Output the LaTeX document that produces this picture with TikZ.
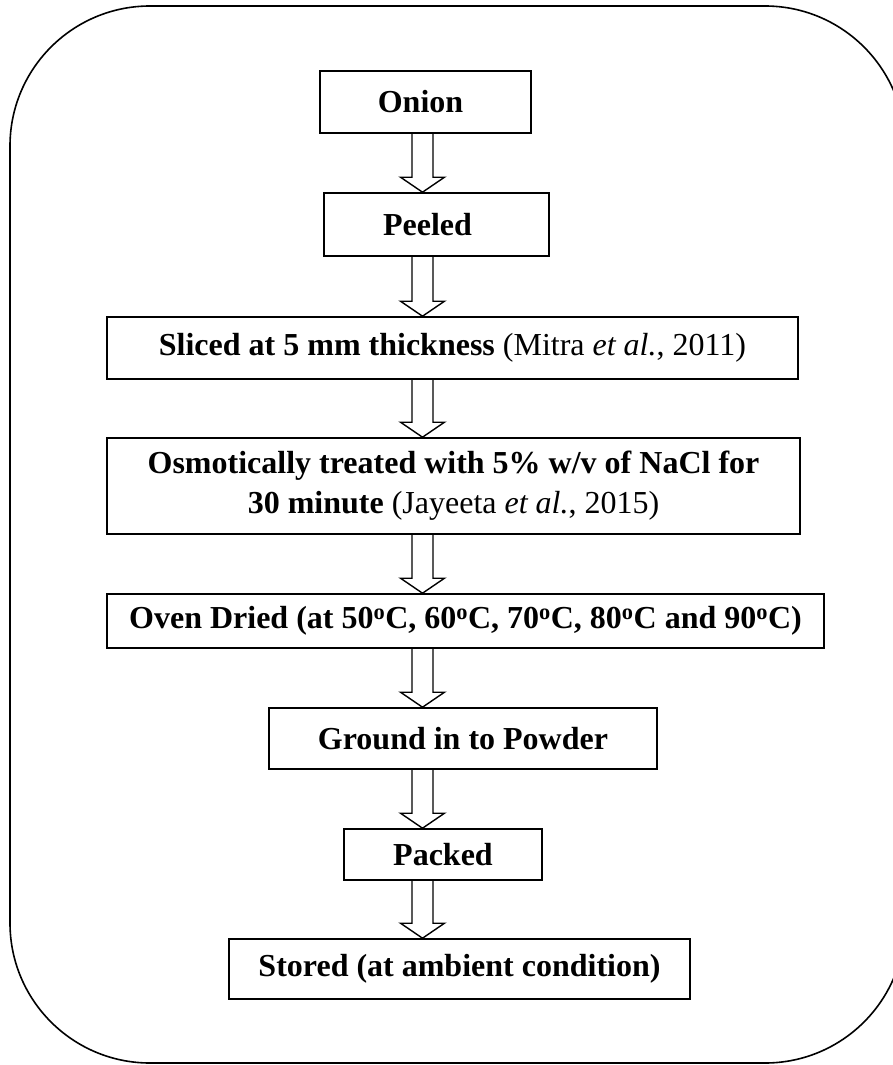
\documentclass[tikz,border=0pt]{standalone}
\usepackage{fontspec}
\setmainfont{Liberation Serif}
\usetikzlibrary{calc}
\newcommand\blockarrow[2]{%
  \draw[blockarr] let \p1=(#1.south -| ax), \p2=(#2.north -| ax) in
    ({\x1-10.5pt},\y1) -- ({\x1-10.5pt},{\y2+15pt}) -- ({\x1-22pt},{\y2+15pt})
    -- (\x1,\y2) -- ({\x1+22pt},{\y2+15pt}) -- ({\x1+10.5pt},{\y2+15pt})
    -- ({\x1+10.5pt},\y1);}
\begin{document}
\begin{tikzpicture}[x=1pt,y=-1pt,
  stepbox/.style={draw, line width=1.6pt, inner sep=0pt,
    font=\fontsize{32}{40}\selectfont\bfseries, align=center},
  blockarr/.style={draw, line width=1.4pt, line join=miter},
  frame/.style={draw, line width=1.6pt, rounded corners=140pt}]
\useasboundingbox (0,0) rectangle (893,1065);
\fill[white] (0,0) rectangle (893,1065);
\begin{scope}
  \clip (0,0) rectangle (893,1065);
  \draw[frame] (10,6) rectangle (905,1063);
\end{scope}
\coordinate (ax) at (422.5,0);
\node[stepbox, minimum width=211, minimum height=62] (onion) at (425.5,102) {Onion\hspace*{10pt}};
\node[stepbox, minimum width=225, minimum height=63] (peeled) at (436.5,224.5) {Peeled\hspace*{18pt}};
\node[stepbox, minimum width=691, minimum height=62] (sliced) at (452.5,348)
  {Sliced at 5 mm thickness {\normalfont (Mitra \textit{et al.}, 2011)}};
\node[stepbox, minimum width=693, minimum height=96] (osmo) at (453.5,486)
  {Osmotically treated with 5\% w/v of NaCl for\\30 minute {\normalfont (Jayeeta \textit{et al.}, 2015)}};
\node[stepbox, minimum width=717, minimum height=54] (oven) at (465.5,621)
  {Oven Dried (at 50\textsuperscript{o}C, 60\textsuperscript{o}C, 70\textsuperscript{o}C, 80\textsuperscript{o}C and 90\textsuperscript{o}C)};
\node[stepbox, minimum width=388, minimum height=61] (ground) at (463,738.5) {Ground in to Powder};
\node[stepbox, minimum width=198, minimum height=51] (packed) at (443,854.5) {Packed};
\node[stepbox, minimum width=461, minimum height=60] (stored) at (459.5,969) {Stored (at ambient condition)};
\blockarrow{onion}{peeled}
\blockarrow{peeled}{sliced}
\blockarrow{sliced}{osmo}
\blockarrow{osmo}{oven}
\blockarrow{oven}{ground}
\blockarrow{ground}{packed}
\blockarrow{packed}{stored}
\end{tikzpicture}
\end{document}
